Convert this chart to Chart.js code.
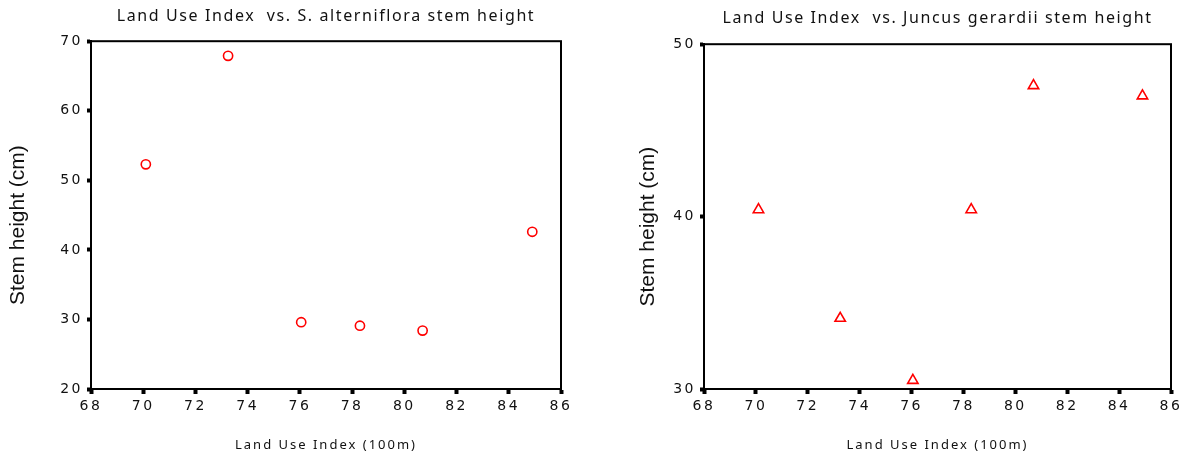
<!DOCTYPE html>
<html>
<head>
<meta charset="utf-8">
<script src="https://cdn.jsdelivr.net/npm/chart.js@4/dist/chart.umd.min.js"></script>
<style>
  html, body { margin: 0; padding: 0; background: #fff; }
  .row { display: flex; width: 1186px; height: 456px; }
  canvas { display: block; }
</style>
</head>
<body>
<div class="row">
  <canvas id="spartina" width="593" height="456"></canvas>
  <canvas id="juncus" width="593" height="456"></canvas>
</div>
<script>
// ── Data ──────────────────────────────────────────────────────
const landUse = [70.1, 73.25, 76.05, 78.3, 80.7, 84.9];
const spartinaHeight = [52.3, 67.9, 29.6, 29.1, 28.4, 42.6];
const juncusHeight = [40.4, 34.1, 30.5, 40.4, 47.6, 47.0];

const xTicks = { min: 68, max: 86, step: 2 };
const spartinaTicks = { min: 20, max: 70, step: 10 };
const juncusTicks = { min: 30, max: 50, step: 10 };

const RED = '#ff0000';
const INK = '#000000';
const SANS = '"Noto Sans", "DejaVu Sans", sans-serif';
const TICK_FONT = { family: '"DejaVu Sans", sans-serif', size: 14 };

// ── Letter spacing per text element ───────────────────────────
function spaced(obj, method, spacing, dy) {
  if (!obj || obj['_sp_' + method]) return;
  const orig = obj[method];
  obj[method] = function(...args) {
    const ctx = this.ctx;
    const prev = ctx.letterSpacing;
    ctx.save();
    ctx.letterSpacing = spacing;
    if (dy) ctx.translate(0, dy);
    orig.apply(this, args);
    ctx.restore();
    ctx.letterSpacing = prev;
  };
  obj['_sp_' + method] = true;
}

const spacingPlugin = {
  id: 'spacing',
  afterLayout(chart) {
    const { x, y } = chart.scales;
    spaced(x, 'drawLabels', '2.5px');
    spaced(y, 'drawLabels', '2.5px');
    spaced(x, 'drawTitle', '2px');
    spaced(y, 'drawTitle', '0px', 10);
    spaced(chart.titleBlock, 'draw', '1.6px');
  }
};

// closed frame around the plot area
const framePlugin = {
  id: 'frame',
  afterDatasetsDraw(chart) {
    const { ctx, chartArea: a } = chart;
    ctx.save();
    ctx.strokeStyle = INK;
    ctx.lineWidth = 2;
    ctx.strokeRect(a.left, a.top, a.right - a.left, a.bottom - a.top);
    ctx.restore();
  }
};

function makeChart(id, opts) {
  const points = landUse.map((x, i) => ({ x, y: opts.values[i] }));
  return new Chart(document.getElementById(id), {
    type: 'scatter',
    data: {
      datasets: [{
        data: points,
        pointStyle: opts.marker,
        radius: opts.radius,
        hoverRadius: opts.radius,
        borderColor: RED,
        borderWidth: 1.6,
        backgroundColor: 'rgba(0,0,0,0)'
      }]
    },
    options: {
      responsive: false,
      animation: false,
      events: [],
      layout: { padding: { top: 0, right: opts.padRight, bottom: 0, left: 0 } },
      plugins: {
        legend: { display: false },
        tooltip: { enabled: false },
        title: {
          display: true,
          text: opts.title,
          fullSize: false,
          color: '#111',
          font: { family: SANS, size: 16, weight: 'normal' },
          padding: { top: opts.titleTop, bottom: opts.titleBottom }
        }
      },
      scales: {
        x: {
          type: 'linear',
          min: xTicks.min,
          max: xTicks.max,
          afterFit: s => { s.height = 67; },
          ticks: { stepSize: xTicks.step, color: '#111', font: TICK_FONT, padding: 4 },
          grid: { drawOnChartArea: false, tickLength: 5, tickWidth: 4, tickColor: INK },
          border: { color: INK, width: 2 },
          title: {
            display: true,
            text: 'Land Use Index (100m)',
            color: '#111',
            font: { family: SANS, size: 13 },
            padding: { top: 0, bottom: 3 }
          }
        },
        y: {
          min: opts.ticks.min,
          max: opts.ticks.max,
          afterFit: s => { s.width = opts.yWidth; },
          ticks: { stepSize: opts.ticks.step, color: '#111', font: TICK_FONT, padding: 4 },
          grid: { drawOnChartArea: false, tickLength: 4, tickWidth: 4, tickColor: INK },
          border: { color: INK, width: 2 },
          title: {
            display: true,
            text: 'Stem height (cm)',
            color: '#111',
            font: { family: '"Liberation Sans", Arial, sans-serif', size: 21 },
            padding: { top: opts.yTitlePad, bottom: 0 }
          }
        }
      }
    },
    plugins: [spacingPlugin, framePlugin]
  });
}

makeChart('spartina', {
  title: 'Land Use Index  vs. S. alterniflora stem height',
  values: spartinaHeight,
  ticks: spartinaTicks,
  marker: 'circle',
  radius: 4.6,
  yWidth: 91,
  yTitlePad: 6,
  padRight: 32,
  titleTop: 7,
  titleBottom: 15
});

makeChart('juncus', {
  title: 'Land Use Index  vs. Juncus gerardii stem height',
  values: juncusHeight,
  ticks: juncusTicks,
  marker: 'triangle',
  radius: 6,
  yWidth: 111,
  yTitlePad: 43,
  padRight: 15,
  titleTop: 9,
  titleBottom: 16
});
</script>
</body>
</html>
